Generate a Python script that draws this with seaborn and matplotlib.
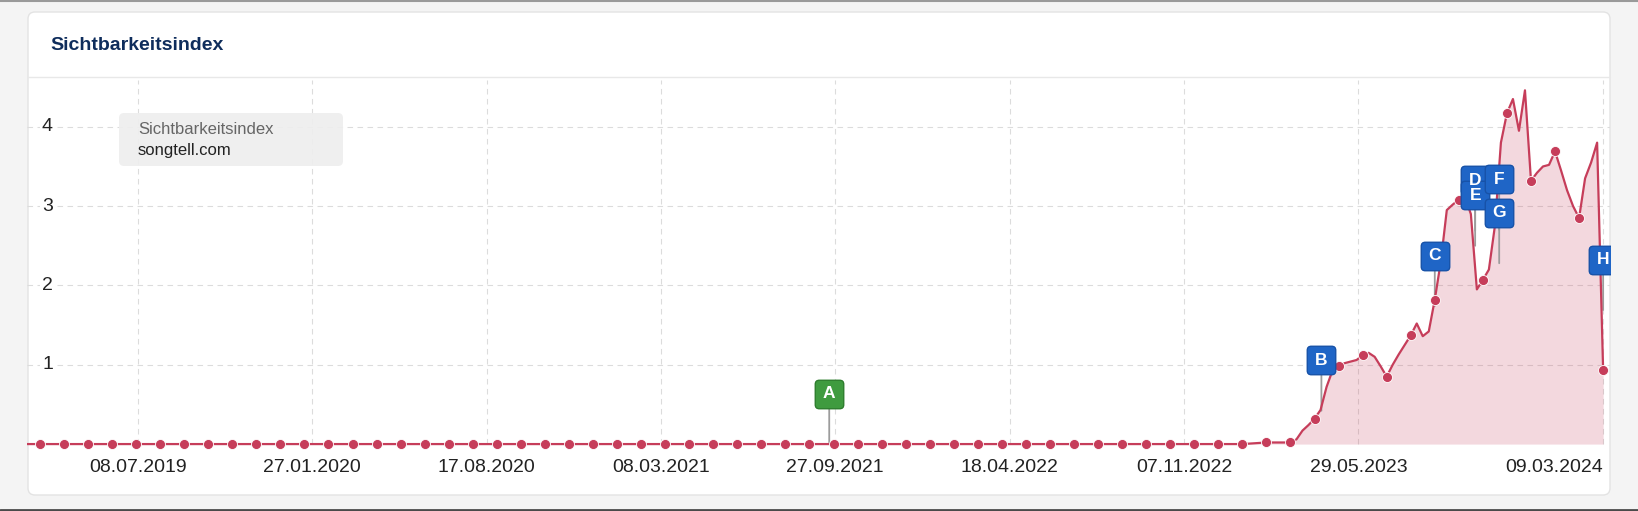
import numpy as np
import pandas as pd
import matplotlib
matplotlib.use('Agg')
import matplotlib.pyplot as plt
import matplotlib.dates as mdates
import matplotlib.transforms as mtransforms
from matplotlib.patches import FancyBboxPatch, BoxStyle
import seaborn as sns

# --- data -------------------------------------------------------------
# 4-weekly values before the site took off (16.02.2019 .. 11.02.2023)
early_dates = pd.date_range(end='2023-02-11', periods=53, freq='28D')
early_values = [0.0] * 52 + [0.02]

# weekly values from 11.03.2023 to 09.03.2024
weekly_dates = pd.date_range(end='2024-03-09', periods=53, freq='7D')
weekly_values = [
    0.02, 0.06, 0.17, 0.24,
    0.32, 0.43, 0.72, 0.93,
    0.98, 1.02, 1.04, 1.06,
    1.12, 1.15, 1.10, 0.98,
    0.85, 1.00, 1.13, 1.25,
    1.37, 1.52, 1.36, 1.42,
    1.82, 2.30, 2.95, 3.02,
    3.08, 3.12, 2.90, 1.95,
    2.07, 2.20, 2.75, 3.80,
    4.17, 4.35, 3.95, 4.46,
    3.32, 3.42, 3.50, 3.52,
    3.69, 3.45, 3.20, 3.00,
    2.85, 3.35, 3.55, 3.80,
    0.93,
]

x_tick_labels = ['08.07.2019', '27.01.2020', '17.08.2020', '08.03.2021',
                 '27.09.2021', '18.04.2022', '07.11.2022', '29.05.2023',
                 '09.03.2024']
y_ticks = [1, 2, 3, 4]

flag_labels = ['A', 'B', 'C', 'D', 'E', 'F', 'G', 'H']
flag_dates = pd.to_datetime(['2021-09-20', '2023-04-16', '2023-08-26', '2023-10-12',
                             '2023-10-12', '2023-11-09', '2023-11-09', '2024-03-09'])
flag_values = [0.0, 0.42, 1.74, 2.69, 2.50, 2.70, 2.28, 1.69]

series_title = 'Sichtbarkeitsindex'
domain = 'songtell.com'

# --- style ------------------------------------------------------------
W, H = 1638, 511
line_color = '#c63d5a'
grid_color = '#dcdcdc'
green, green_edge = '#3f9b3f', '#2e7d2e'
blue, blue_edge = '#1f65c6', '#1752a8'

sns.set_style('white')
plt.rcParams['font.family'] = ['Liberation Sans', 'DejaVu Sans']

fig = plt.figure(figsize=(W / 100, H / 100), dpi=100, facecolor='#f4f4f4')

# background layer in pixel coordinates
bg = fig.add_axes([0, 0, 1, 1], zorder=0)
bg.set_xlim(0, W)
bg.set_ylim(H, 0)
bg.axis('off')
bg.add_patch(FancyBboxPatch((28, 12), 1582, 483, boxstyle='round,pad=0,rounding_size=7',
                            fc='white', ec='#e3e3e3', lw=1))
bg.plot([0, W], [0.6, 0.6], color='#9a9a9a', lw=1.5)
bg.plot([0, W], [510, 510], color='#4a4a4a', lw=2)
bg.plot([28, 1610], [77, 77], color='#e8e8e8', lw=1)
bg.text(50, 46, series_title, fontsize=14, fontweight='bold', color='#0f2d5c',
        va='center', ha='left')

# chart
ax = fig.add_axes([27 / W, 1 - 452 / H, 1583 / W, (452 - 80) / H], zorder=1)
ax.patch.set_alpha(0)
for s in ax.spines.values():
    s.set_visible(False)

line_dates = early_dates.append(weekly_dates)
line_values = early_values + weekly_values

x_left = pd.Timestamp('2019-03-01')
x_right = pd.Timestamp('2024-03-17')

marker_dates = early_dates.append(weekly_dates[::4])
marker_values = early_values + weekly_values[::4]
keep = marker_dates >= x_left
marker_dates = marker_dates[keep]
marker_values = np.array(marker_values)[keep]

tick_dates = pd.to_datetime(x_tick_labels, format='%d.%m.%Y')
y_top = 4.59

ax.vlines(mdates.date2num(tick_dates), 0, y_top, colors=grid_color,
          linestyles=(0, (5, 4)), lw=0.8, zorder=0)
ax.fill_between(mdates.date2num(line_dates), line_values, 0, color=line_color,
                alpha=0.2, lw=0, zorder=1)
sns.lineplot(x=mdates.date2num(line_dates), y=line_values, ax=ax, color=line_color,
             lw=1.6, zorder=3)
sns.scatterplot(x=mdates.date2num(marker_dates), y=marker_values, ax=ax,
                color=line_color, s=52, edgecolor='white', linewidth=0.6, zorder=4)

# event flags (rounded square marker)
flag_shape = BoxStyle('round', pad=0, rounding_size=0.14)(-0.5, -0.5, 1, 1, 1)
stem_px, box_px = 38, 25
for lab, d, v in zip(flag_labels, flag_dates, flag_values):
    xd = mdates.date2num(d)
    fc, ec = (green, green_edge) if lab == 'A' else (blue, blue_edge)
    ax.annotate('', xy=(xd, v), xytext=(0, stem_px * 0.72), textcoords='offset points',
                arrowprops=dict(arrowstyle='-', color='#9c9c9c', lw=1.3,
                                shrinkA=0, shrinkB=0), zorder=2)
    tr = mtransforms.offset_copy(ax.transData, fig=fig, x=0,
                                 y=stem_px + box_px / 2, units='dots')
    ax.plot([xd], [v], transform=tr, marker=flag_shape,
            ms=20.5, mfc=fc, mec=ec, mew=1, zorder=6)
    ax.text(xd, v, lab, transform=tr, ha='center', va='center', color='white',
            fontsize=12.5, fontweight='bold', zorder=7, clip_on=True)

ax.set_xlim(mdates.date2num(x_left), mdates.date2num(x_right))
ax.set_ylim(-0.1, y_top)

ax.set_yticks(y_ticks)
ax.set_yticklabels([])
ax.grid(axis='y', color=grid_color, ls=(0, (5, 4)), lw=0.8)
ax.grid(axis='x', visible=False)
ytr = mtransforms.blended_transform_factory(ax.transAxes, ax.transData)
for v in y_ticks:
    ax.text(15 / 1583, v, str(v), transform=ytr, ha='left', va='center', fontsize=14,
            color='#222222', bbox=dict(fc='white', ec='none', pad=1.5), zorder=2)

ax.set_xticks(mdates.date2num(tick_dates))
ax.set_xticklabels(x_tick_labels)
ax.tick_params(axis='x', length=0, pad=5, labelsize=14, colors='#222222')
ax.tick_params(axis='y', length=0)
ax.get_xticklabels()[-1].set_ha('right')
ax.set_xlabel('')
ax.set_ylabel('')

# legend box on top
fg = fig.add_axes([0, 0, 1, 1], zorder=2)
fg.set_xlim(0, W)
fg.set_ylim(H, 0)
fg.axis('off')
fg.patch.set_alpha(0)
fg.add_patch(FancyBboxPatch((119, 113), 224, 53, boxstyle='round,pad=0,rounding_size=5',
                            fc='#eeeeee', ec='none', alpha=0.92))
fg.text(138, 129, series_title, fontsize=12, color='#666666', va='center', ha='left')
fg.text(138, 150, domain, fontsize=12, color='#222222', va='center', ha='left')

fig.savefig('out.png', dpi=100, facecolor=fig.get_facecolor())
